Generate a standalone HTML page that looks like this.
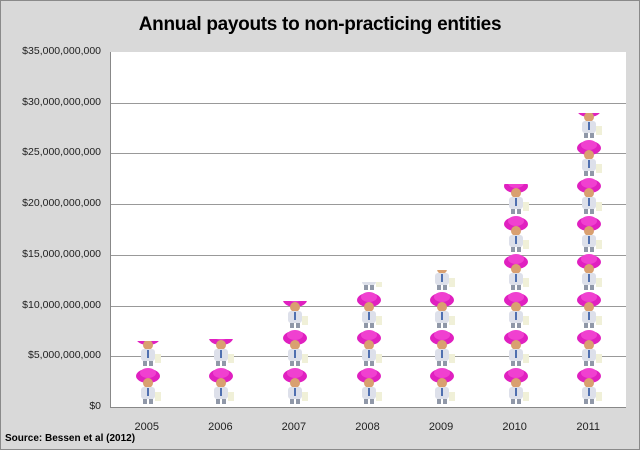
<!DOCTYPE html>
<html><head><style>
body{margin:0;width:640px;height:450px;background:#d9d9d9;font-family:"Liberation Sans",sans-serif;position:relative;overflow:hidden}
.frame{position:absolute;left:0;top:0;width:638px;height:448px;border:1px solid #8a8a8a}
.title{position:absolute;top:14px;left:0;width:640px;text-align:center;font-weight:bold;font-size:19px;color:#000;letter-spacing:-0.3px}
.plot{position:absolute;left:110px;top:52px;width:515px;height:355px;background:#fff;border-left:1px solid #888;border-bottom:1px solid #888}
.grid{position:absolute;left:0;width:515px;height:1px;background:#999}
.yl{position:absolute;right:539px;font-size:10.5px;color:#222;text-align:right;white-space:nowrap}
.xl{position:absolute;top:421px;font-size:11px;width:60px;text-align:center;color:#222}
.bar{position:absolute;bottom:0;width:34px;overflow:hidden}
.icon{position:absolute;left:0;width:34px;height:38px}
.src{position:absolute;left:5px;top:433px;font-size:10px;font-weight:bold}
</style></head><body>
<div class="frame"></div>
<div class="title">Annual payouts to non-practicing entities</div>
<div class="plot" id="p"></div>
<div class="src">Source: Bessen et al (2012)</div>
<svg width="0" height="0" style="position:absolute"><defs>
<symbol id="t" viewBox="0 0 34 38">
<ellipse cx="17" cy="8" rx="12" ry="7" fill="#e020c0"/>
<ellipse cx="17" cy="5" rx="8" ry="5" fill="#f040d0"/>
<ellipse cx="17" cy="15" rx="5" ry="5" fill="#d9a070"/>
<rect x="10" y="19" width="14" height="12" rx="3" fill="#dde0ea"/>
<rect x="16" y="20" width="2" height="8" fill="#5070b0"/>
<rect x="12" y="31" width="4" height="5" fill="#9098a8"/>
<rect x="18" y="31" width="4" height="5" fill="#9098a8"/>
<rect x="24" y="24" width="6" height="9" fill="#f0f0d8"/>
</symbol></defs></svg>
<script>
var p=document.getElementById('p');
for(var i=0;i<8;i++){
 var y=Math.round(i*355/7);
 if(i>0&&i<7){var g=document.createElement('div');g.className='grid';g.style.top=y+'px';p.appendChild(g);}
 var l=document.createElement('div');l.className='yl';l.style.top=(52+y-7)+'px';
 var v=(35-i*5);l.textContent=v==0?'$0':'$'+v+',000,000,000';document.body.appendChild(l);
}
var vals=[6.5,6.7,10.5,12.3,13.5,22,29],yrs=[2005,2006,2007,2008,2009,2010,2011];
var w=515/7;
for(var k=0;k<7;k++){
 var cx=w*(k+0.5);
 var b=document.createElement('div');b.className='bar';
 var h=vals[k]/35*355;b.style.height=h+'px';b.style.left=(cx-17)+'px';
 var html='';for(var j=0;j*38<h;j++){html+='<svg class="icon" style="bottom:'+(j*38+1)+'px"><use href="#t"/></svg>';}
 b.innerHTML=html;p.appendChild(b);
 var x=document.createElement('div');x.className='xl';x.style.left=(110+cx-30)+'px';x.textContent=yrs[k];document.body.appendChild(x);
}
</script>
</body></html>
